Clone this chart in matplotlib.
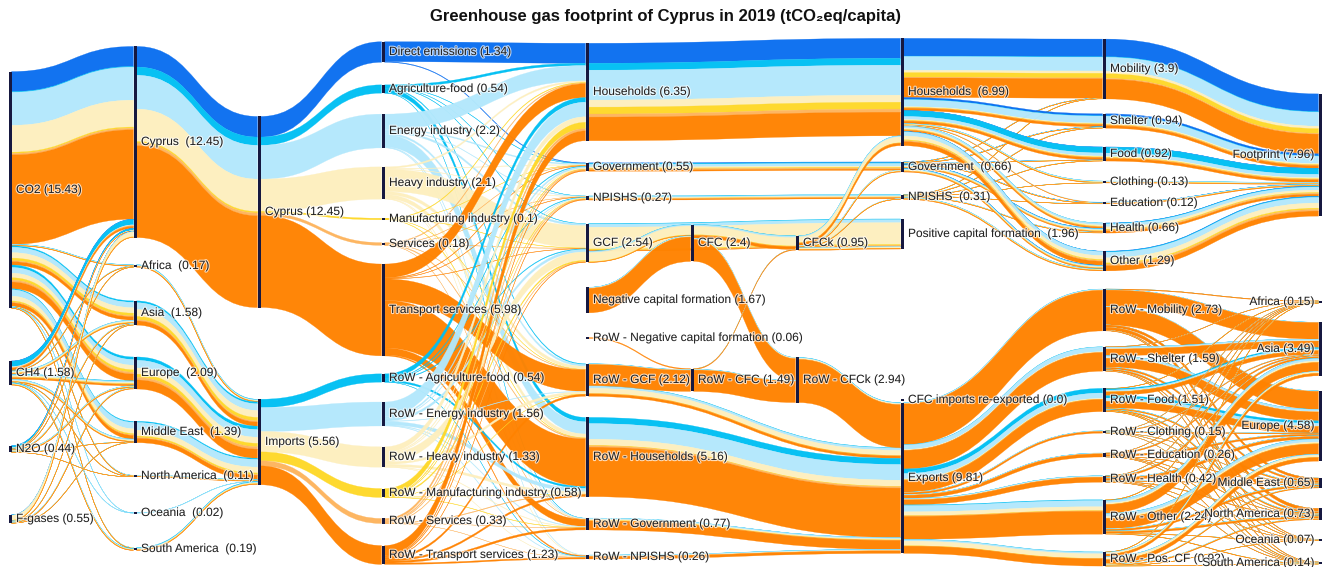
import numpy as np
import matplotlib
matplotlib.use("Agg")
import matplotlib.pyplot as plt
from matplotlib.path import Path
from matplotlib.patches import PathPatch, Rectangle
import matplotlib.patheffects as pe

plt.rcParams["font.family"] = ["Liberation Sans", "DejaVu Sans"]

# emission categories, every ribbon carries one of them
cat_names = ["Direct emissions", "Agriculture-food", "Energy industry", "Heavy industry",
             "Manufacturing industry", "Services", "Transport services"]
cat_colors = ["#0a6ef0", "#00bff3", "#b3e8fc", "#fdefbe", "#fed828", "#fdb45d", "#ff8200"]

gases = ["CO2", "CH4", "N2O", "F-gases"]
gas_values = [15.43, 1.58, 0.44, 0.55]
regions = ["Africa", "Asia", "Europe", "Middle East", "North America", "Oceania", "South America"]
region_values = [0.17, 1.58, 2.09, 1.39, 0.11, 0.02, 0.19]

# domestic emissions (gas x category)
gas_domestic = [
    [1.30, 0.05, 2.15, 1.75, 0.08, 0.10, 5.82],
    [0.02, 0.35, 0.03, 0.02, 0.00, 0.05, 0.13],
    [0.01, 0.13, 0.01, 0.02, 0.00, 0.01, 0.02],
    [0.01, 0.01, 0.01, 0.32, 0.02, 0.02, 0.01],
]
# imported emissions (gas x region)
gas_imports = [
    [0.10, 1.25, 1.55, 1.15, 0.07, 0.01, 0.05],
    [0.05, 0.22, 0.33, 0.20, 0.03, 0.01, 0.14],
    [0.02, 0.07, 0.12, 0.02, 0.01, 0.00, 0.00],
    [0.00, 0.04, 0.09, 0.02, 0.00, 0.00, 0.00],
]
# imported emissions (region x category)
region_mix = [
    [0, 0.04, 0.04, 0.04, 0.01, 0.01, 0.03],
    [0, 0.12, 0.44, 0.45, 0.22, 0.08, 0.27],
    [0, 0.22, 0.50, 0.40, 0.22, 0.16, 0.59],
    [0, 0.08, 0.50, 0.38, 0.10, 0.05, 0.28],
    [0, 0.02, 0.03, 0.02, 0.01, 0.01, 0.02],
    [0, 0.01, 0.01, 0.00, 0.00, 0.00, 0.00],
    [0, 0.05, 0.04, 0.04, 0.02, 0.02, 0.02],
]
origin_values = [12.45, 5.56]

sectors = cat_names + ["RoW - " + c for c in cat_names[1:]]
sector_values = [1.34, 0.54, 2.2, 2.1, 0.1, 0.18, 5.98, 0.54, 1.56, 1.33, 0.58, 0.33, 1.23]
sector_cat = [0, 1, 2, 3, 4, 5, 6, 1, 2, 3, 4, 5, 6]

demand = ["Households", "Government", "NPISHS", "GCF", "Negative capital formation",
          "RoW - Negative capital formation", "RoW - GCF", "RoW - Households",
          "RoW - Government", "RoW - NPISHS"]
demand_values = [6.35, 0.55, 0.27, 2.54, 1.67, 0.06, 2.12, 5.16, 0.77, 0.26]

# sector -> final demand
fd_cols = ["Households", "Government", "NPISHS", "GCF", "RoW - GCF", "RoW - Households",
           "RoW - Government", "RoW - NPISHS"]
sector_to_demand = [
    [1.30, 0.04, 0.00, 0.00, 0.00, 0.00, 0.00, 0.00],
    [0.15, 0.02, 0.01, 0.02, 0.05, 0.28, 0.01, 0.00],
    [1.00, 0.07, 0.03, 0.12, 0.12, 0.80, 0.04, 0.02],
    [0.10, 0.03, 0.02, 1.45, 0.20, 0.25, 0.03, 0.02],
    [0.04, 0.01, 0.00, 0.02, 0.01, 0.02, 0.00, 0.00],
    [0.05, 0.02, 0.01, 0.02, 0.02, 0.05, 0.01, 0.00],
    [0.90, 0.03, 0.02, 0.02, 1.40, 3.10, 0.45, 0.07],
    [0.30, 0.04, 0.03, 0.04, 0.00, 0.12, 0.00, 0.01],
    [0.95, 0.10, 0.03, 0.16, 0.03, 0.22, 0.04, 0.03],
    [0.36, 0.05, 0.03, 0.55, 0.15, 0.15, 0.03, 0.01],
    [0.41, 0.03, 0.02, 0.08, 0.01, 0.01, 0.02, 0.00],
    [0.15, 0.06, 0.03, 0.03, 0.00, 0.04, 0.01, 0.01],
    [0.64, 0.05, 0.04, 0.03, 0.13, 0.12, 0.13, 0.09],
]
neg_cf_mix = [0, 0.01, 0.04, 0.02, 0, 0.01, 1.59]
row_neg_cf_mix = [0, 0, 0, 0, 0, 0, 0.06]

cfc = ["CFC", "RoW - CFC"]
cfc_values = [2.4, 1.49]
cfck = ["CFCk", "RoW - CFCk"]
cfck_values = [0.95, 2.94]
ends = ["Households", "Government", "NPISHS", "Positive capital formation",
        "CFC imports re-exported", "Exports"]
end_values = [6.99, 0.66, 0.31, 1.96, 0.0, 9.81]

# capital and export flows: value, or value by category where it is readable
capital_links = [
    (4, "Households", 7, "Households", 6.35),
    (4, "Government", 7, "Government", 0.55),
    (4, "NPISHS", 7, "NPISHS", 0.27),
    (4, "GCF", 7, "Positive capital formation", 1.80),
    (4, "GCF", 5, "CFC", 0.74),
    (4, "Negative capital formation", 5, "CFC", 1.67),
    (4, "RoW - Negative capital formation", 5, "RoW - CFC", 0.06),
    (4, "RoW - GCF", 7, "Exports", [0, 0.03, 0.14, 0.33, 0.02, 0.02, 0.15]),
    (4, "RoW - GCF", 5, "RoW - CFC", 1.43),
    (5, "CFC", 6, "CFCk", [0, 0.02, 0.10, 0.55, 0.03, 0.02, 0.18]),
    (5, "CFC", 6, "RoW - CFCk", 1.50),
    (5, "RoW - CFC", 6, "CFCk", 0.05),
    (5, "RoW - CFC", 6, "RoW - CFCk", 1.44),
    (6, "CFCk", 7, "Households", 0.64),
    (6, "CFCk", 7, "Government", 0.11),
    (6, "CFCk", 7, "NPISHS", 0.04),
    (6, "CFCk", 7, "Positive capital formation", 0.16),
    (6, "RoW - CFCk", 7, "Exports", 2.94),
    (4, "RoW - Households", 7, "Exports", 5.16),
    (4, "RoW - Government", 7, "Exports", 0.77),
    (4, "RoW - NPISHS", 7, "Exports", 0.26),
]

uses = ["Mobility", "Shelter", "Food", "Clothing", "Education", "Health", "Other"]
use_values = [3.9, 0.94, 0.92, 0.13, 0.12, 0.66, 1.29]
# households use x category
household_use = [
    [1.15, 0.03, 0.90, 0.15, 0.30, 0.05, 1.27],
    [0.13, 0.02, 0.45, 0.05, 0.02, 0.03, 0.15],
    [0.01, 0.38, 0.20, 0.05, 0.03, 0.03, 0.15],
    [0.00, 0.01, 0.04, 0.02, 0.02, 0.01, 0.02],
    [0.00, 0.00, 0.02, 0.01, 0.00, 0.00, 0.02],
    [0.00, 0.01, 0.12, 0.08, 0.03, 0.03, 0.08],
    [0.01, 0.01, 0.27, 0.25, 0.06, 0.06, 0.26],
]
government_use = [0.03, 0.05, 0.04, 0.00, 0.05, 0.25, 0.24]
npish_use = [0.02, 0.04, 0.03, 0.01, 0.02, 0.06, 0.13]

row_uses = ["RoW - Mobility", "RoW - Shelter", "RoW - Food", "RoW - Clothing",
            "RoW - Education", "RoW - Health", "RoW - Other", "RoW - Pos. CF"]
row_use_values = [2.73, 1.59, 1.51, 0.15, 0.26, 0.42, 2.24, 0.92]
# exports use x category
export_use = [
    [0, 0.01, 0.05, 0.02, 0.00, 0.01, 2.64],
    [0, 0.02, 0.30, 0.05, 0.00, 0.01, 1.21],
    [0, 0.30, 0.35, 0.05, 0.01, 0.02, 0.78],
    [0, 0.01, 0.02, 0.01, 0.00, 0.00, 0.11],
    [0, 0.01, 0.03, 0.01, 0.00, 0.01, 0.20],
    [0, 0.01, 0.05, 0.03, 0.00, 0.01, 0.32],
    [0, 0.05, 0.40, 0.25, 0.02, 0.03, 1.49],
    [0, 0.02, 0.10, 0.30, 0.02, 0.01, 0.47],
]
footprint_value = 7.96
dest_values = [0.15, 3.49, 4.58, 0.65, 0.73, 0.07, 0.14]
# RoW use x destination region
row_use_region = [
    [0.04, 1.10, 1.20, 0.15, 0.20, 0.02, 0.02],
    [0.02, 0.55, 0.75, 0.12, 0.12, 0.01, 0.02],
    [0.02, 0.45, 0.80, 0.10, 0.10, 0.01, 0.03],
    [0.01, 0.05, 0.06, 0.01, 0.01, 0.00, 0.01],
    [0.01, 0.08, 0.12, 0.02, 0.02, 0.005, 0.005],
    [0.01, 0.12, 0.20, 0.03, 0.04, 0.005, 0.015],
    [0.03, 0.85, 1.00, 0.15, 0.16, 0.02, 0.03],
    [0.01, 0.29, 0.45, 0.07, 0.08, 0.01, 0.01],
]

# ---- layout (pixels) ----
W, H = 1330, 567
col_x = [10, 135, 259, 383, 587, 692, 797, 902, 1104, 1320]
col_y = [
    [190, 373, 449, 519],
    [142, 266, 313, 373, 432, 476, 513, 549],
    [212, 442],
    [52, 89, 131, 183, 219, 244, 310, 378, 414, 457, 493, 521, 555],
    [92, 167, 198, 243, 300, 338, 380, 457, 524, 557],
    [243, 380],
    [243, 380],
    [92, 167, 197, 234, 400, 478],
    [69, 121, 154, 182, 203, 228, 261, 310, 359, 400, 432, 455, 479, 517, 559],
    [155, 302, 349, 426, 483, 514, 540, 563],
]
px = 15.35
node_w = 3.0

columns = [
    (gases, gas_values, " "),
    (["Cyprus"] + regions, [12.45] + region_values, "  "),
    (["Cyprus", "Imports"], origin_values, " "),
    (sectors, sector_values, " "),
    (demand, demand_values, " "),
    (cfc, cfc_values, " "),
    (cfck, cfck_values, " "),
    (ends, end_values, ["  ", "  ", "  ", "  ", " ", " "]),
    (uses + row_uses, use_values + row_use_values, " "),
    (["Footprint"] + regions, [footprint_value] + dest_values, " "),
]

# ---- build the links, one per category ----
links = []
mix_of = {}
used = {}


def add(src, tgt, vec):
    vec = np.asarray(vec, dtype=float)
    for c, v in enumerate(vec):
        if v > 0:
            links.append((src, tgt, c, v))
    mix_of[tgt] = mix_of.get(tgt, np.zeros(7)) + vec
    used[src] = used.get(src, np.zeros(7)) + vec


def share(src, tgt, value):
    # split by what is left of the source's mix
    rest = np.clip(mix_of[src] - used.get(src, np.zeros(7)), 0, None)
    if rest.sum() <= 0:
        rest = mix_of[src]
    add(src, tgt, value * rest / rest.sum())


for g, gas in enumerate(gases):
    add((0, gas), (1, "Cyprus"), gas_domestic[g])
    for r, reg in enumerate(regions):
        if gas_imports[g][r] > 0:
            mix = np.array(region_mix[r], dtype=float)
            add((0, gas), (1, reg), gas_imports[g][r] * mix / mix.sum())

add((1, "Cyprus"), (2, "Cyprus"), np.sum(gas_domestic, axis=0))
for r, reg in enumerate(regions):
    add((1, reg), (2, "Imports"), region_mix[r])

for i, s in enumerate(sectors):
    vec = np.zeros(7)
    vec[sector_cat[i]] = sector_values[i]
    add((2, "Cyprus" if i < 7 else "Imports"), (3, s), vec)

for i, s in enumerate(sectors):
    for j, t in enumerate(fd_cols):
        if sector_to_demand[i][j] > 0:
            vec = np.zeros(7)
            vec[sector_cat[i]] = sector_to_demand[i][j]
            add((3, s), (4, t), vec)

mix_of[(4, "Negative capital formation")] = np.array(neg_cf_mix, dtype=float)
mix_of[(4, "RoW - Negative capital formation")] = np.array(row_neg_cf_mix, dtype=float)
for sc, s, tc, t, v in capital_links:
    if isinstance(v, list):
        add((sc, s), (tc, t), v)
    else:
        share((sc, s), (tc, t), v)

for u, use in enumerate(uses):
    add((7, "Households"), (8, use), household_use[u])
    if government_use[u] > 0:
        share((7, "Government"), (8, use), government_use[u])
    if npish_use[u] > 0:
        share((7, "NPISHS"), (8, use), npish_use[u])
for k, ru in enumerate(row_uses):
    add((7, "Exports"), (8, ru), export_use[k])

for use in uses:
    add((8, use), (9, "Footprint"), mix_of[(8, use)])
for k, ru in enumerate(row_uses):
    for d, reg in enumerate(regions):
        share((8, ru), (9, reg), row_use_region[k][d])

# ---- node geometry ----
nodes = {}
for ci, (names, vals, sep) in enumerate(columns):
    for k, name in enumerate(names):
        nodes[(ci, name)] = {"col": ci, "cy": col_y[ci][k], "out": [], "in": [],
                             "label": f"{name}{sep if isinstance(sep, str) else sep[k]}({vals[k]})"}
for li, (s, t, c, v) in enumerate(links):
    nodes[s]["out"].append(li)
    nodes[t]["in"].append(li)
for n in nodes.values():
    tot = max(sum(links[i][3] for i in n["out"]), sum(links[i][3] for i in n["in"]))
    n["h"] = tot * px
    n["top"] = n["cy"] - n["h"] / 2

y_src, y_tgt = {}, {}
for n in nodes.values():
    off = n["top"]
    for li in sorted(n["out"], key=lambda i: nodes[links[i][1]]["top"]):
        y_src[li] = off
        off += links[li][3] * px
    off = n["top"]
    for li in sorted(n["in"], key=lambda i: nodes[links[i][0]]["top"]):
        y_tgt[li] = off
        off += links[li][3] * px

fig = plt.figure(figsize=(W / 100, H / 100), dpi=100)
ax = fig.add_axes([0, 0, 1, 1])
ax.set_xlim(0, W)
ax.set_ylim(H, 0)
ax.axis("off")

for li, (s, t, c, v) in enumerate(links):
    x0 = col_x[s[0]] + node_w / 2
    x1 = col_x[t[0]] - node_w / 2
    xm = (x0 + x1) / 2
    a0, a1 = y_src[li], y_tgt[li]
    b0, b1 = a0 + v * px, a1 + v * px
    verts = [(x0, a0), (xm, a0), (xm, a1), (x1, a1), (x1, b1), (xm, b1), (xm, b0), (x0, b0), (x0, a0)]
    codes = [Path.MOVETO, Path.CURVE4, Path.CURVE4, Path.CURVE4, Path.LINETO,
             Path.CURVE4, Path.CURVE4, Path.CURVE4, Path.CLOSEPOLY]
    ax.add_patch(PathPatch(Path(verts, codes), facecolor=cat_colors[c], edgecolor=cat_colors[c],
                           lw=0.2, alpha=0.97, zorder=1))

halo = [pe.withStroke(linewidth=1.6, foreground="white", alpha=0.7)]
for n in nodes.values():
    x = col_x[n["col"]]
    h = max(n["h"], 2.0)
    ax.add_patch(Rectangle((x - node_w / 2, n["cy"] - h / 2), node_w, h,
                           facecolor="#161840", edgecolor="none", zorder=3))
    if n["col"] == 9:
        ax.text(x - 6, n["cy"], n["label"], ha="right", va="center", fontsize=8.6,
                color="#222222", zorder=4, path_effects=halo)
    else:
        ax.text(x + 6, n["cy"], n["label"], ha="left", va="center", fontsize=8.6,
                color="#222222", zorder=4, path_effects=halo)

ax.text(W / 2, 17, "Greenhouse gas footprint of Cyprus in 2019 (tCO\u2082eq/capita)",
        ha="center", va="center", fontsize=12, fontweight="bold", color="#111111")

fig.savefig("out.png", dpi=100)
